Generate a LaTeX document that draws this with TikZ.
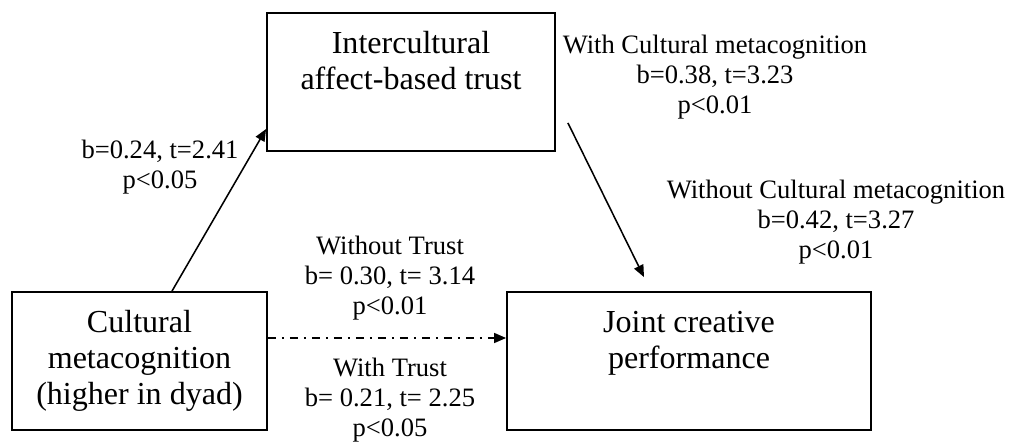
\documentclass[tikz,border=0pt]{standalone}
\usepackage{fontspec}
\setmainfont{Liberation Serif}
\usetikzlibrary{arrows.meta}

\begin{document}
\begin{tikzpicture}[>={Triangle[length=0.3cm, width=0.25cm]},
  box/.style={draw, line width=1.3pt, inner sep=0pt, align=center,
              minimum height=3.45cm, font=\fontsize{22.8}{25.6}\selectfont},
  stat/.style={inner sep=0pt, align=center, anchor=north,
               font=\fontsize{18.9}{21.3}\selectfont},
  link/.style={->, line width=1.1pt}]
  \useasboundingbox (0,0) rectangle (25.375,11.075);
  \node[box, minimum width=7.2cm] (trust) at (10.275,9.025)
    {Intercultural\\affect-based trust\\\vphantom{y}};
  \node[box, minimum width=6.375cm] (cult) at (3.4875,2.05)
    {Cultural\\metacognition\\(higher in dyad)};
  \node[box, minimum width=9.1cm] (joint) at (17.225,2.05)
    {Joint creative\\performance\\\vphantom{y}};
  \draw[link] ([xshift=0.8125cm]cult.north) -- ([yshift=-1.175cm]trust.west);
  \draw[link] ([xshift=0.3cm, yshift=0.725cm]trust.south east)
    -- ([xshift=-1.125cm, yshift=0.35cm]joint.north);
  \draw[link, dash pattern=on 0.2cm off 0.15cm on 0.05cm off 0.15cm]
    ([yshift=0.575cm]cult.east) -- ([yshift=0.575cm]joint.west);
  \node[stat] (atrust) at (4.0,7.575) {b=0.24, t=2.41\\p<0.05};
  \node[stat] (notrust) at (9.75,5.175) {Without Trust\\b= 0.30, t= 3.14\\p<0.01};
  \node[stat] (wtrust) at (9.75,2.125) {With Trust\\b= 0.21, t= 2.25\\p<0.05};
  \node[stat] (wmeta) at (17.875,10.2)
    {With Cultural metacognition\\b=0.38, t=3.23\\p<0.01};
  \node[stat] (nometa) at (20.9,6.575)
    {Without Cultural metacognition\\b=0.42, t=3.27\\p<0.01};
\end{tikzpicture}
\end{document}
